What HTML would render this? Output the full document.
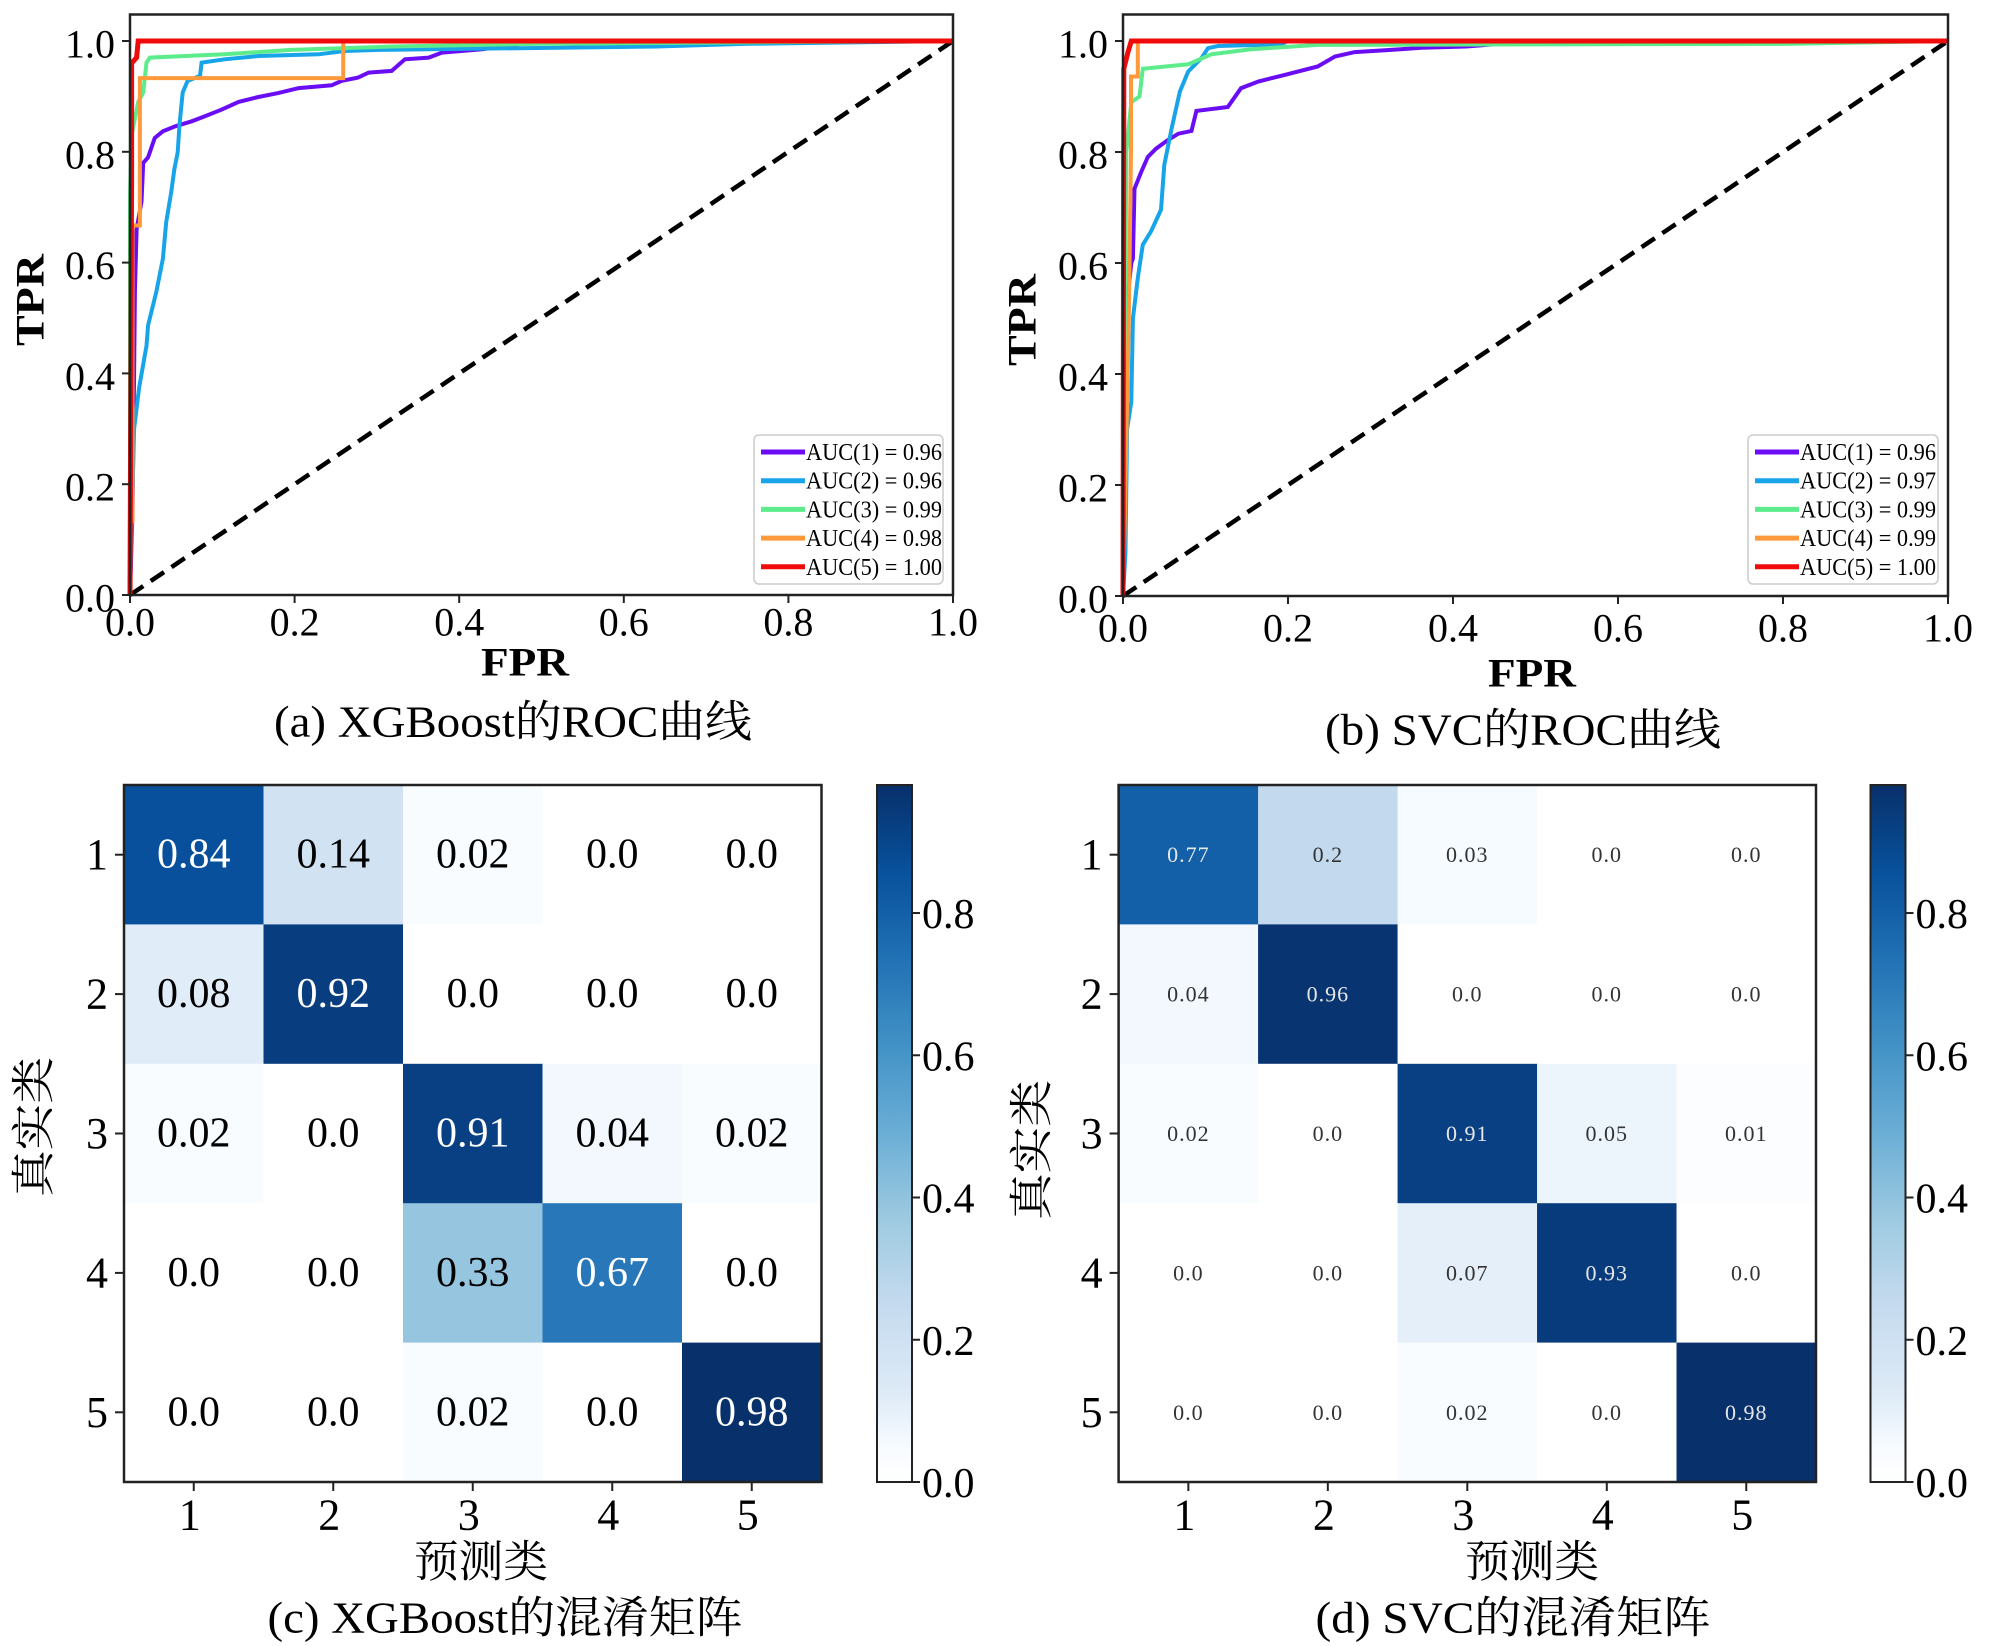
<!DOCTYPE html>
<html><head><meta charset="utf-8">
<style>
html,body{margin:0;padding:0;background:#fff;}
svg{display:block;}
text{font-family:"Liberation Serif","Noto Serif CJK SC",serif;}
</style></head>
<body>
<svg id="fig" width="2000" height="1646" viewBox="0 0 2000 1646" xmlns="http://www.w3.org/2000/svg">
<g id="pa"></g>
<g id="pb"></g>
<g id="pc"></g>
<g id="pd"></g>
</svg>
<script>
// ---------- data ----------
const rocTicks = [0, 0.2, 0.4, 0.6, 0.8, 1.0];
const rocTickLabels = ["0.0","0.2","0.4","0.6","0.8","1.0"];
const seriesColors = ["#6a0df5","#18a4e8","#5cec8c","#ff9a3c","#f00a0a"];
const legendA = ["AUC(1) = 0.96","AUC(2) = 0.96","AUC(3) = 0.99","AUC(4) = 0.98","AUC(5) = 1.00"];
const legendB = ["AUC(1) = 0.96","AUC(2) = 0.97","AUC(3) = 0.99","AUC(4) = 0.99","AUC(5) = 1.00"];

const a1x=[0,0.003,0.005,0.006,0.008,0.014,0.016,0.022,0.03,0.04,0.055,0.075,0.091,0.111,0.132,0.156,0.18,0.205,0.245,0.257,0.277,0.29,0.318,0.334,0.363,0.379,0.428,0.5,1];
const a1y=[0,0.15,0.4,0.547,0.66,0.71,0.78,0.79,0.825,0.837,0.846,0.855,0.864,0.876,0.89,0.899,0.906,0.915,0.92,0.928,0.934,0.943,0.946,0.967,0.97,0.979,0.985,1,1];
const a2x=[0,0.005,0.011,0.02,0.022,0.032,0.04,0.044,0.05,0.054,0.058,0.06,0.064,0.07,0.085,0.087,0.115,0.156,0.229,0.261,0.302,0.64,0.75,1];
const a2y=[0,0.3,0.374,0.45,0.487,0.547,0.607,0.673,0.727,0.769,0.799,0.847,0.907,0.928,0.937,0.961,0.967,0.973,0.976,0.982,0.984,0.99,0.995,1];
const a3x=[0,0,0.002,0.01,0.016,0.02,0.024,0.115,0.196,0.318,0.5,1];
const a3y=[0,0.72,0.83,0.89,0.907,0.961,0.97,0.976,0.984,0.99,0.995,1];
const a4x=[0,0,0.003,0.003,0.012,0.012,0.259,0.259,1];
const a4y=[0,0.13,0.133,0.667,0.667,0.933,0.933,1,1];
const a5x=[0,0.002,0.002,0.008,0.01,1];
const a5y=[0,0.75,0.96,0.97,1,1];

const b1x=[0,0.002,0.005,0.01,0.012,0.014,0.022,0.03,0.04,0.054,0.067,0.083,0.089,0.127,0.143,0.164,0.196,0.236,0.257,0.281,0.325,0.362,0.416,0.5,1];
const b1y=[0,0.35,0.53,0.6,0.608,0.734,0.764,0.791,0.806,0.821,0.833,0.838,0.874,0.881,0.915,0.927,0.939,0.954,0.972,0.98,0.984,0.988,0.99,1,1];
const b2x=[0,0.003,0.005,0.01,0.012,0.018,0.024,0.034,0.046,0.05,0.059,0.069,0.079,0.095,0.103,0.115,0.192,0.2,1];
const b2y=[0,0.08,0.3,0.35,0.5,0.573,0.633,0.657,0.696,0.777,0.843,0.909,0.945,0.969,0.987,0.991,0.994,1,1];
const b3x=[0,0.002,0.004,0.01,0.02,0.024,0.079,0.107,0.155,0.236,0.81,1];
const b3y=[0,0.4,0.8,0.89,0.9,0.95,0.958,0.976,0.985,0.993,0.995,1];
const b4x=[0,0.002,0.007,0.0097,0.0097,0.018,0.018,1];
const b4y=[0,0.13,0.5,0.8,0.936,0.936,1,1];
const b5x=[0,0.001,0.006,0.01,1];
const b5y=[0,0.95,0.98,1,1];

const classLabels=["1","2","3","4","5"];
const cmXgb=[[0.84,0.14,0.02,0.0,0.0],[0.08,0.92,0.0,0.0,0.0],[0.02,0.0,0.91,0.04,0.02],[0.0,0.0,0.33,0.67,0.0],[0.0,0.0,0.02,0.0,0.98]];
const cmSvc=[[0.77,0.2,0.03,0.0,0.0],[0.04,0.96,0.0,0.0,0.0],[0.02,0.0,0.91,0.05,0.01],[0.0,0.0,0.07,0.93,0.0],[0.0,0.0,0.02,0.0,0.98]];
const cbTicks=[0,0.2,0.4,0.6,0.8];
const cbTickLabels=["0.0","0.2","0.4","0.6","0.8"];
const cbMax=0.98;

// ---------- helpers ----------
const NS="http://www.w3.org/2000/svg";
function mk(tag,attrs,parent){const e=document.createElementNS(NS,tag);for(const k in attrs)e.setAttribute(k,attrs[k]);parent.appendChild(e);return e;}
function txt(parent,x,y,s,size,anchor,extra){const t=mk('text',Object.assign({x:x,y:y,'font-size':size,'text-anchor':anchor||'middle','dominant-baseline':'central',fill:'#000'},extra||{}),parent);t.textContent=s;return t;}

const stops=[[0,[255,255,255]],[0.05,[247,251,255]],[0.125,[222,235,247]],[0.25,[198,219,239]],[0.375,[158,202,225]],[0.5,[107,174,214]],[0.625,[66,146,198]],[0.75,[33,113,181]],[0.875,[8,81,156]],[1,[8,48,107]]];
function blues(t){t=Math.max(0,Math.min(1,t));for(let i=1;i<stops.length;i++){if(t<=stops[i][0]){const a=stops[i-1],b=stops[i];const f=(t-a[0])/(b[0]-a[0]);const c=a[1].map((v,j)=>Math.round(v+(b[1][j]-v)*f));return `rgb(${c[0]},${c[1]},${c[2]})`;}}return 'rgb(8,48,107)';}

// ---------- ROC ----------
function drawRoc(g,cfg,series,legend){
  const sx=v=>cfg.x0+(cfg.x1-cfg.x0)*v;
  const sy=v=>cfg.y0-(cfg.y0-cfg.y1)*v;
  const d=mk('line',{x1:sx(0),y1:sy(0),x2:sx(1),y2:sy(1),stroke:'#000','stroke-width':4.5,'stroke-dasharray':'16,9'},g);
  
  
  series.forEach((s,i)=>{
    const pts=s[0].map((v,k)=>sx(v).toFixed(1)+','+sy(s[1][k]).toFixed(1)).join(' ');
    const p=mk('polyline',{points:pts,fill:'none',stroke:seriesColors[i],'stroke-width':i===4?5:4,'stroke-linejoin':'miter'},g);
    
    
  });
  const fr=mk('rect',{x:cfg.x0,y:cfg.top,width:cfg.x1-cfg.x0,height:cfg.y0-cfg.top,fill:'none',stroke:'#222','stroke-width':2.5},g);
  
  
  rocTicks.forEach((v,i)=>{
    mk('line',{x1:sx(v),y1:cfg.y0,x2:sx(v),y2:cfg.y0+8,stroke:'#222','stroke-width':2},g);
    const tx=txt(g,sx(v),cfg.xtY,rocTickLabels[i],40);
    
    
    mk('line',{x1:cfg.x0-8,y1:sy(v),x2:cfg.x0,y2:sy(v),stroke:'#222','stroke-width':2},g);
    const ty=txt(g,cfg.x0-15,sy(v)+3,rocTickLabels[i],40,'end');
    
    
  });
  const xl=txt(g,cfg.xlX,cfg.xlY,'FPR',40,'middle',{'font-weight':'bold',textLength:88,lengthAdjust:'spacingAndGlyphs'});
  
  
  const yl=txt(g,0,0,'TPR',40,'middle',{'font-weight':'bold',transform:`translate(${cfg.ylX},${cfg.ylY}) rotate(-90)`,textLength:92,lengthAdjust:'spacingAndGlyphs'});
  
  
  const cap=txt(g,cfg.capX,cfg.capY,cfg.cap,44,'middle',{textLength:cfg.capW,lengthAdjust:'spacingAndGlyphs'});
  
  
  const lg=mk('g',{},g);
  
  
  mk('rect',{x:cfg.lgX,y:435,width:cfg.lgW,height:149,rx:5,fill:'#fff','fill-opacity':0.85,stroke:'#ccc','stroke-width':1.5},lg);
  legend.forEach((s,i)=>{
    const y=452+i*28.7;
    const e=mk('g',{},lg);
    
    
    mk('line',{x1:cfg.lgX+7,y1:y,x2:cfg.lgX+51,y2:y,stroke:seriesColors[i],'stroke-width':5},e);
    txt(e,cfg.lgX+52,y+1,s,24,'start',{textLength:136,lengthAdjust:'spacingAndGlyphs'});
  });
}
drawRoc(document.getElementById('pa'),{x0:130,x1:953,y0:595,y1:41,top:14.5,xtY:622,xlX:525,xlY:662,ylX:30,ylY:300,capX:513,capY:722,capW:478,cap:'(a) XGBoost的ROC曲线',lgX:754,lgW:189},
  [[a1x,a1y],[a2x,a2y],[a3x,a3y],[a4x,a4y],[a5x,a5y]],legendA);
drawRoc(document.getElementById('pb'),{x0:1123,x1:1948,y0:596,y1:41,top:14.5,xtY:628,xlX:1532,xlY:673,ylX:1022,ylY:320,capX:1523,capY:730,capW:396,cap:'(b) SVC的ROC曲线',lgX:1748,lgW:190},
  [[b1x,b1y],[b2x,b2y],[b3x,b3y],[b4x,b4y],[b5x,b5y]],legendB);

// ---------- Confusion matrices ----------
function fmt(v){const s=(Math.round(v*100)/100).toString();return s.indexOf('.')<0?s+'.0':s;}
function drawCm(g,cfg,m){
  const n=classLabels.length;
  const cw=(cfg.x1-cfg.x0)/n, ch=(cfg.y1-cfg.y0)/n;
  m.forEach((row,r)=>row.forEach((v,c)=>{
    const cell=mk('rect',{x:cfg.x0+c*cw,y:cfg.y0+r*ch,width:cw+0.5,height:ch+0.5,fill:blues(Math.pow(v/cbMax,0.85))},g);
    
    
    const dark=v>cbMax/2;
    let t;
    if(cfg.mono){
      t=txt(g,cfg.x0+(c+0.5)*cw,cfg.y0+(r+0.5)*ch,fmt(v),22,'middle',{'font-family':'"Liberation Mono",monospace','letter-spacing':'1',fill:dark?'#e6e6e6':'#333'});
    } else {
      t=txt(g,cfg.x0+(c+0.5)*cw,cfg.y0+(r+0.5)*ch,fmt(v),42,'middle',{fill:dark?'#fff':'#000'});
    }
    
    
  }));
  const fr=mk('rect',{x:cfg.x0,y:cfg.y0,width:cfg.x1-cfg.x0,height:cfg.y1-cfg.y0,fill:'none',stroke:'#222','stroke-width':2.5},g);
  
  
  classLabels.forEach((s,i)=>{
    const cx=cfg.x0+(i+0.5)*cw, cy=cfg.y0+(i+0.5)*ch;
    mk('line',{x1:cx,y1:cfg.y1,x2:cx,y2:cfg.y1+9,stroke:'#222','stroke-width':2},g);
    const a=txt(g,cx-4,1515,s,44);
    
    
    mk('line',{x1:cfg.x0-9,y1:cy,x2:cfg.x0,y2:cy,stroke:'#222','stroke-width':2},g);
    const b=txt(g,cfg.x0-16,cy,s,44,'end');
    
    
  });
  const xl=txt(g,cfg.xlX,1562,'预测类',44,'middle',{'font-family':'"Noto Serif CJK SC",serif',textLength:134,lengthAdjust:'spacingAndGlyphs'});
  
  
  const yl=txt(g,0,0,'真实类',44,'middle',{'font-family':'"Noto Serif CJK SC",serif',transform:`translate(${cfg.ylX},${cfg.ylY}) rotate(-90)`,textLength:140,lengthAdjust:'spacingAndGlyphs'});
  
  
  const cap=txt(g,cfg.capX,1618,cfg.cap,44,'middle',{textLength:cfg.capW,lengthAdjust:'spacingAndGlyphs'});
  
  
  const cb=mk('g',{},g);
  
  
  const gid='grad'+cfg.id;
  const defs=mk('defs',{},cb);
  const lgr=mk('linearGradient',{id:gid,x1:0,y1:1,x2:0,y2:0},defs);
  stops.forEach(s=>mk('stop',{offset:s[0],'stop-color':`rgb(${s[1].join(',')})`},lgr));
  mk('rect',{x:cfg.cbX,y:cfg.y0,width:cfg.cbW,height:cfg.y1-cfg.y0,fill:`url(#${gid})`,stroke:'#222','stroke-width':2},cb);
  cbTicks.forEach((v,i)=>{
    const y=cfg.y1-(cfg.y1-cfg.y0)*v/cbMax;
    mk('line',{x1:cfg.cbX+cfg.cbW,y1:y,x2:cfg.cbX+cfg.cbW+8,y2:y,stroke:'#222','stroke-width':2},cb);
    const t=txt(cb,cfg.cbX+cfg.cbW+10,y+2,cbTickLabels[i],42,'start');
    
    
  });
}
drawCm(document.getElementById('pc'),{id:'c',x0:124,x1:821.5,y0:785,y1:1482,cbX:877,cbW:35,xlX:481,ylX:34,ylY:1127,capX:505,capW:475,cap:'(c) XGBoost的混淆矩阵',mono:false},cmXgb);
drawCm(document.getElementById('pd'),{id:'d',x0:1118.6,x1:1816,y0:785,y1:1482,cbX:1870.5,cbW:35,xlX:1532,ylX:1032,ylY:1150,capX:1513,capW:395,cap:'(d) SVC的混淆矩阵',mono:true},cmSvc);
</script>
</body></html>
